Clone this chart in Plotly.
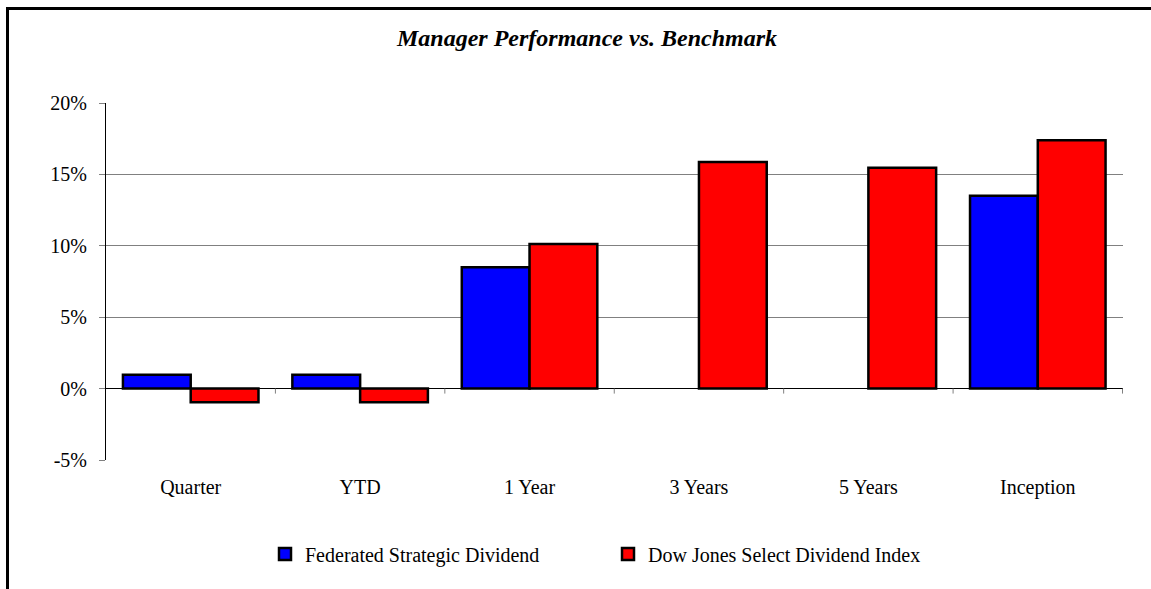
import plotly.graph_objects as go

categories = ["Quarter", "YTD", "1 Year", "3 Years", "5 Years", "Inception"]
manager_name = "Federated Strategic Dividend"
benchmark_name = "Dow Jones Select Dividend Index"
manager_values = [0.97, 0.97, 8.5, None, None, 13.5]
benchmark_values = [-0.95, -0.95, 10.13, 15.87, 15.47, 17.4]
y_ticks = [-5, 0, 5, 10, 15, 20]
title_text = "Manager Performance vs. Benchmark"

FONT = "Liberation Serif"

fig = go.Figure()
fig.add_trace(go.Bar(x=categories, y=manager_values, name=manager_name,
                     marker=dict(color="#0000FF", line=dict(color="#000000", width=2.5))))
fig.add_trace(go.Bar(x=categories, y=benchmark_values, name=benchmark_name,
                     marker=dict(color="#FF0000", line=dict(color="#000000", width=2.5))))

# category boundary ticks on the zero line
shapes = []
for k in range(1, len(categories) + 1):
    shapes.append(dict(type="line", xref="x", yref="y", x0=k - 0.5, x1=k - 0.5,
                       ysizemode="pixel", yanchor=0, y0=0, y1=-5,
                       line=dict(color="#808080", width=1)))
# page frame (left and top borders)
L, R, T, B = 106, 1123, 103, 460
def px_x(p):
    return (p - L) / (R - L)
def px_y(p):
    return (B - p) / (B - T)
shapes.append(dict(type="line", xref="paper", yref="paper", x0=px_x(7.5), x1=px_x(7.5),
                   y0=px_y(7), y1=px_y(600), line=dict(color="#000000", width=3)))
shapes.append(dict(type="line", xref="paper", yref="paper", x0=px_x(6), x1=px_x(1160),
                   y0=px_y(8.5), y1=px_y(8.5), line=dict(color="#000000", width=3)))

fig.update_layout(
    width=1151, height=589,
    margin=dict(l=L, r=1151 - R, t=T, b=589 - B),
    paper_bgcolor="white", plot_bgcolor="white",
    barmode="group", bargap=0.2, bargroupgap=0,
    font=dict(family=FONT, size=20, color="#000000"),
    showlegend=True,
    legend=dict(orientation="h", x=px_x(265), xanchor="left", y=px_y(554), yanchor="middle",
                font=dict(family=FONT, size=20), entrywidth=298, traceorder="normal",
                itemwidth=30),
    shapes=shapes,
    annotations=[dict(text="<b><i>" + title_text + "</i></b>", xref="paper", yref="paper",
                      x=px_x(586), y=px_y(38), xanchor="center", yanchor="middle",
                      showarrow=False, font=dict(family=FONT, size=24, color="#000000"))],
)
fig.update_xaxes(showgrid=False, showline=False, zeroline=False, ticks="outside",
                 ticklen=9, tickcolor="rgba(0,0,0,0)", tickfont=dict(size=20, family=FONT))
fig.update_yaxes(range=[-5, 20], tickvals=y_ticks, ticktext=[f"{v}%" for v in y_ticks],
                 showgrid=True, gridcolor="#808080", gridwidth=1,
                 zeroline=True, zerolinecolor="#000000", zerolinewidth=1,
                 showline=True, linecolor="#000000", linewidth=1,
                 ticks="outside", ticklen=6, tickcolor="#808080",
                 tickfont=dict(size=20, family=FONT), ticklabelstandoff=8)

fig.write_html("out.html", config={"displayModeBar": False},
               post_script="document.body.style.margin='0';document.body.style.padding='0';")
